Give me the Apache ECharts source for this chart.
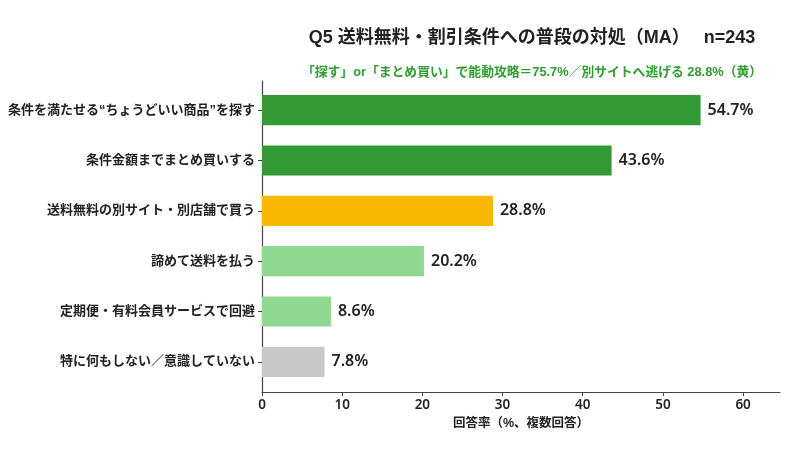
<!DOCTYPE html>
<html><head><meta charset="utf-8">
<script src="https://cdn.jsdelivr.net/npm/echarts@6/dist/echarts.min.js"></script>
<style>html,body{margin:0;padding:0;background:#fff}#c{width:800px;height:457px}</style>
</head><body><div id="c"></div>
<script>
const categories = [
  '条件を満たせる“ちょうどいい商品”を探す',
  '条件金額までまとめ買いする',
  '送料無料の別サイト・別店舗で買う',
  '諦めて送料を払う',
  '定期便・有料会員サービスで回避',
  '特に何もしない／意識していない'
];
const values = [54.7, 43.6, 28.8, 20.2, 8.6, 7.8];
const barColors = ['#339a35', '#339a35', '#f9b800', '#90d890', '#90d890', '#c8c8c8'];
const xTicks = [0, 10, 20, 30, 40, 50, 60];
const titleText = 'Q5 送料無料・割引条件への普段の対処（MA）　 n=243';
const subText = '「探す」or「まとめ買い」で能動攻略＝75.7%／別サイトへ逃げる 28.8%（黄）';
const xName = '回答率（%、複数回答）';

const FONT = '"Liberation Sans", "Noto Sans CJK JP", sans-serif';
const NUMFONT = '"Noto Sans", "Noto Sans CJK JP", sans-serif';
const chart = echarts.init(document.getElementById('c'));
const LEFT = 262, RIGHT = 20, XMAX = 64.6;
chart.setOption({
  animation: false,
  textStyle: { fontFamily: FONT },
  title: [
    { text: titleText, left: 527, textAlign: 'center', top: 24,
      textStyle: { fontSize: 18, fontWeight: 'bold', color: '#222', fontFamily: FONT } },
    { text: subText, left: 527, textAlign: 'center', top: 61,
      textStyle: { fontSize: 12.8, fontWeight: 'bold', color: '#2ca02c', fontFamily: FONT } }
  ],
  grid: [
    { left: LEFT, right: RIGHT, top: 85, bottom: 457 - 387, containLabel: false },
    { left: LEFT, right: RIGHT, top: 81, bottom: 457 - 392, containLabel: false }
  ],
  xAxis: [
    { type: 'value', gridIndex: 0, min: 0, max: XMAX, show: false },
    { type: 'value', gridIndex: 1, min: 0, max: XMAX, interval: 10,
      axisLine: { show: true, lineStyle: { color: '#444', width: 1.2 } },
      axisTick: { show: true, length: 4, lineStyle: { color: '#444' } },
      axisLabel: { color: '#222', fontSize: 13.5, fontWeight: 600, margin: 6, fontFamily: NUMFONT,
        showMaxLabel: false,
        formatter: v => (xTicks.indexOf(v) >= 0 ? String(v) : '') },
      splitLine: { show: false },
      name: xName, nameLocation: 'middle', nameGap: 25,
      nameTextStyle: { fontSize: 12.5, fontWeight: 'bold', color: '#222', fontFamily: FONT } }
  ],
  yAxis: [
    { type: 'category', gridIndex: 0, data: categories, inverse: true,
      axisLine: { show: false },
      axisTick: { show: true, alignWithLabel: true, length: 4, lineStyle: { color: '#444' } },
      axisLabel: { color: '#222', fontSize: 13, fontWeight: 'bold', margin: 7, fontFamily: FONT } },
    { type: 'value', gridIndex: 1, min: 0, max: 1,
      axisLine: { show: true, lineStyle: { color: '#444', width: 1.2 } },
      axisTick: { show: false }, axisLabel: { show: false }, splitLine: { show: false } }
  ],
  series: [{
    type: 'bar', xAxisIndex: 0, yAxisIndex: 0,
    data: values.map((v, i) => ({ value: v, itemStyle: { color: barColors[i] } })),
    barWidth: '60%',
    label: { show: true, position: 'right', distance: 7, formatter: p => p.value.toFixed(1) + '%',
      fontSize: 16, fontWeight: 600, color: '#222', fontFamily: NUMFONT }
  }]
});
</script></body></html>
